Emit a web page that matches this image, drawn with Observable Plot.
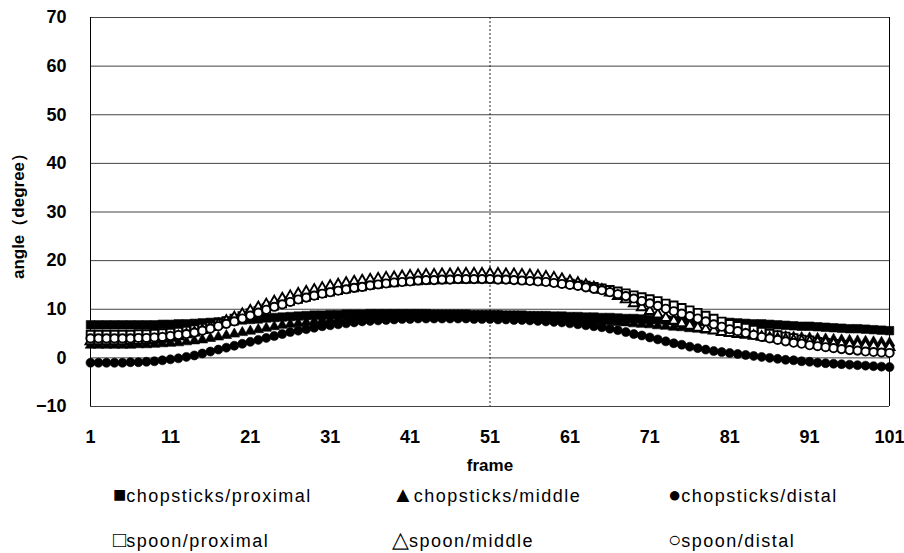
<!DOCTYPE html>
<html><head><meta charset="utf-8">
<script src="https://cdn.jsdelivr.net/npm/d3@7"></script>
<script src="https://cdn.jsdelivr.net/npm/@observablehq/plot@0.6"></script>
<style>
body{margin:0;background:#fff;}
#wrap{position:relative;width:904px;height:553px;overflow:hidden;font-family:"Liberation Sans",Arial,sans-serif;}
#wrap svg{position:absolute;left:0;top:0;}
.leg{position:absolute;font-size:18px;color:#000;white-space:nowrap;line-height:22px;letter-spacing:1.5px;}
.leg span.sym{font-size:22px;letter-spacing:0;}
</style>
</head><body>
<div id="wrap"></div>
<script>
const frames = d3.range(1, 102);
const seriesNames = ["chopsticks/proximal","chopsticks/middle","chopsticks/distal","spoon/proximal","spoon/middle","spoon/distal"];
const legendSymbols = ["■","▲","●","□","△","○"];
const yTicks = [-10,0,10,20,30,40,50,60,70];
const xTicks = [1,11,21,31,41,51,61,71,81,91,101];

const chopsticksProximal = [
6.8,6.8,6.8,6.8,6.8,6.8,6.8,6.8,6.8,6.9,
6.9,7.0,7.0,7.1,7.2,7.3,7.4,7.5,7.6,7.8,
7.9,8.0,8.2,8.3,8.4,8.5,8.6,8.7,8.8,8.8,
8.9,8.9,9.0,9.0,9.0,9.1,9.1,9.1,9.1,9.1,
9.1,9.1,9.1,9.0,9.0,9.0,9.0,9.0,8.9,8.9,
8.9,8.9,8.8,8.8,8.8,8.7,8.7,8.7,8.6,8.6,
8.5,8.5,8.4,8.4,8.3,8.3,8.2,8.1,8.1,8.0,
7.9,7.9,7.8,7.7,7.7,7.6,7.5,7.5,7.4,7.3,
7.3,7.2,7.1,7.0,7.0,6.9,6.8,6.7,6.6,6.5,
6.5,6.4,6.3,6.2,6.1,6.0,6.0,5.9,5.8,5.7,
5.6];
const chopsticksMiddle = [
2.6,2.6,2.6,2.6,2.6,2.6,2.7,2.7,2.8,2.9,
3.0,3.1,3.3,3.5,3.7,4.0,4.3,4.6,4.9,5.2,
5.5,5.8,6.1,6.4,6.7,6.9,7.1,7.3,7.5,7.7,
7.8,8.0,8.1,8.2,8.3,8.4,8.5,8.5,8.6,8.6,
8.6,8.7,8.7,8.7,8.7,8.7,8.7,8.7,8.6,8.6,
8.6,8.6,8.5,8.5,8.4,8.4,8.3,8.3,8.2,8.1,
8.0,7.9,7.8,7.7,7.6,7.5,7.3,7.2,7.0,6.9,
6.8,6.6,6.5,6.3,6.2,6.0,5.9,5.7,5.6,5.5,
5.3,5.2,5.1,4.9,4.8,4.7,4.5,4.4,4.3,4.2,
4.1,4.0,3.9,3.8,3.7,3.6,3.5,3.4,3.3,3.2,
3.1];
const chopsticksDistal = [
-1.0,-1.0,-1.0,-1.0,-1.0,-0.9,-0.9,-0.8,-0.7,-0.5,
-0.3,-0.1,0.2,0.5,0.9,1.3,1.7,2.1,2.5,2.9,
3.3,3.7,4.1,4.5,4.9,5.3,5.6,5.9,6.2,6.5,
6.7,6.9,7.1,7.3,7.5,7.6,7.7,7.8,7.9,8.0,
8.0,8.1,8.1,8.1,8.1,8.1,8.1,8.1,8.0,8.0,
8.0,7.9,7.9,7.8,7.8,7.7,7.6,7.5,7.4,7.3,
7.1,6.9,6.7,6.5,6.3,6.0,5.7,5.3,4.9,4.6,
4.2,3.8,3.4,3.0,2.7,2.3,2.0,1.7,1.4,1.2,
1.0,0.8,0.6,0.4,0.2,0.0,-0.2,-0.4,-0.5,-0.7,
-0.8,-1.0,-1.1,-1.2,-1.3,-1.4,-1.5,-1.6,-1.7,-1.8,
-1.9];
const spoonProximal = [
4.8,4.8,4.8,4.8,4.8,4.8,4.9,4.9,5.0,5.1,
5.2,5.4,5.6,5.9,6.2,6.6,7.1,7.6,8.1,8.6,
9.2,9.7,10.2,10.7,11.2,11.7,12.1,12.5,12.9,13.3,
13.6,13.9,14.2,14.5,14.7,15.0,15.2,15.4,15.5,15.7,
15.8,15.9,16.0,16.1,16.1,16.2,16.2,16.2,16.3,16.3,
16.3,16.3,16.2,16.2,16.1,16.0,15.9,15.8,15.7,15.5,
15.3,15.1,14.9,14.6,14.3,14.0,13.7,13.3,12.9,12.5,
12.1,11.7,11.2,10.8,10.3,9.8,9.3,8.7,8.1,7.5,
7.0,6.6,6.2,5.8,5.4,5.0,4.7,4.4,4.1,3.8,
3.6,3.3,3.1,2.9,2.7,2.5,2.3,2.1,2.0,1.8,
1.7];
const spoonMiddle = [
3.4,3.4,3.4,3.4,3.4,3.5,3.5,3.6,3.7,3.9,
4.1,4.4,4.8,5.2,5.7,6.3,6.9,7.6,8.3,9.0,
9.7,10.4,11.0,11.6,12.2,12.7,13.2,13.6,14.0,14.4,
14.8,15.1,15.4,15.7,15.9,16.1,16.3,16.5,16.6,16.8,
16.9,17.0,17.1,17.1,17.2,17.2,17.3,17.3,17.3,17.3,
17.3,17.3,17.2,17.2,17.1,17.0,16.9,16.7,16.5,16.2,
15.8,15.4,15.0,14.5,14.0,13.4,12.7,12.0,11.2,10.4,
9.6,8.9,8.2,7.6,7.1,6.6,6.2,5.9,5.6,5.3,
5.1,4.9,4.7,4.5,4.3,4.1,3.9,3.8,3.6,3.5,
3.3,3.2,3.1,2.9,2.8,2.7,2.6,2.5,2.4,2.3,
2.2];
const spoonDistal = [
4.0,4.0,4.0,4.0,4.0,4.0,4.1,4.1,4.2,4.3,
4.5,4.7,4.9,5.2,5.6,6.0,6.5,7.0,7.5,8.1,
8.7,9.3,9.9,10.5,11.0,11.5,12.0,12.4,12.8,13.2,
13.5,13.8,14.1,14.4,14.6,14.9,15.1,15.3,15.5,15.6,
15.7,15.9,16.0,16.0,16.1,16.1,16.2,16.2,16.2,16.2,
16.2,16.1,16.1,16.0,15.9,15.8,15.7,15.6,15.4,15.2,
15.0,14.8,14.5,14.2,13.9,13.5,13.1,12.7,12.2,11.7,
11.2,10.7,10.1,9.6,9.1,8.6,8.1,7.5,6.9,6.4,
5.9,5.5,5.1,4.7,4.3,4.0,3.7,3.4,3.1,2.9,
2.6,2.4,2.2,2.0,1.8,1.6,1.5,1.3,1.2,1.1,
1.0];

const seriesValues = [chopsticksProximal, chopsticksMiddle, chopsticksDistal, spoonProximal, spoonMiddle, spoonDistal];
const table = seriesValues.map((vals, i) => frames.map((f, j) => ({series: seriesNames[i], frame: f, angle: vals[j]})));

const symbols = ["square","triangle","circle","square","triangle","circle"];
const radii = [4.8, 3.9, 4.5, 4.3, 3.7, 4.1];

const dotMarks = table.map((rows, i) => Plot.dot(rows, {
  x: "frame", y: "angle", symbol: () => symbols[i], r: radii[i],
  fill: i < 3 ? "black" : "white", stroke: "black", strokeWidth: i < 3 ? 0.6 : 1.9
}));

const chart = Plot.plot({
  width: 904, height: 553,
  marginLeft: 90, marginRight: 15, marginTop: 17, marginBottom: 147,
  style: {fontFamily: '"Liberation Sans", Arial, sans-serif', fontSize: "18px", fontWeight: "bold", background: "white", color: "black"},
  x: {domain: [1, 101]},
  y: {domain: [-10, 70]},
  symbol: {type: "identity"},
  marks: [
    Plot.gridY(yTicks, {stroke: "#444", strokeOpacity: 1, strokeWidth: 1}),
    Plot.ruleX([1, 101], {stroke: "black", strokeWidth: 1}),
    Plot.ruleX([51], {stroke: "#222", strokeWidth: 1, strokeDasharray: "2,2"}),
    ...dotMarks,
    Plot.axisY(yTicks, {tickSize: 0, tickPadding: 24, label: null, fontSize: 18, fontWeight: "bold"}),
    Plot.axisX(xTicks, {tickSize: 0, tickPadding: 24, label: null, fontSize: 18, fontWeight: "bold"}),
    Plot.text(["frame"], {frameAnchor: "bottom", dy: 64, fontSize: 17, fontWeight: "bold"}),
    Plot.text(["angle（degree）"], {frameAnchor: "left", textAnchor: "middle", dx: -72, dy: 0, rotate: -90, fontSize: 17, fontWeight: "bold"})
  ]
});
const wrap = document.getElementById("wrap");
wrap.appendChild(chart);

const legX = [113, 392, 668];
const legY = [484, 529];
seriesNames.forEach((name, i) => {
  const d = document.createElement("div");
  d.className = "leg";
  d.style.left = legX[i % 3] + "px";
  d.style.top = legY[Math.floor(i / 3)] + "px";
  d.innerHTML = '<span class="sym">' + legendSymbols[i] + '</span>' + name;
  wrap.appendChild(d);
});
</script>
</body></html>
